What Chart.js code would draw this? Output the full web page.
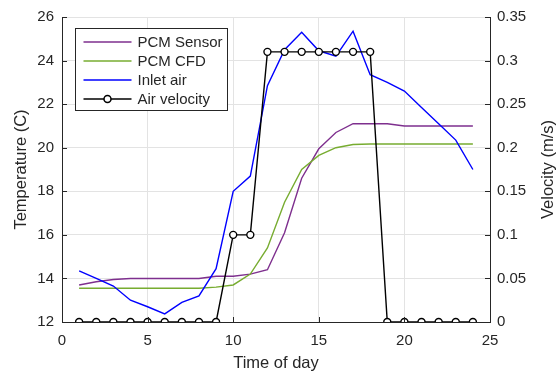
<!DOCTYPE html>
<html>
<head>
<meta charset="utf-8">
<script src="https://cdn.jsdelivr.net/npm/chart.js@4.4.1/dist/chart.umd.min.js"></script>
<style>
  html, body { margin: 0; padding: 0; background: #fff; }
  #wrap { width: 560px; height: 375px; }
</style>
</head>
<body>
<div id="wrap"><canvas id="chart" width="560" height="375"></canvas></div>
<script>
const hours = [1, 2, 3, 4, 5, 6, 7, 8, 9, 10, 11, 12, 13, 14, 15, 16, 17, 18, 19, 20, 21, 22, 23, 24];
const pcmSensor = [13.7, 13.85, 13.95, 14.0, 14.0, 14.0, 14.0, 14.0, 14.1, 14.1, 14.2, 14.4, 16.1, 18.6, 19.95, 20.7, 21.1, 21.1, 21.1, 21.0, 21.0, 21.0, 21.0, 21.0];
const pcmCfd = [13.55, 13.55, 13.55, 13.55, 13.55, 13.55, 13.55, 13.55, 13.6, 13.7, 14.2, 15.4, 17.5, 19.0, 19.65, 20.0, 20.15, 20.17, 20.17, 20.17, 20.17, 20.17, 20.17, 20.17];
const inletAir = [14.35, 14.0, 13.65, 13.0, 12.7, 12.37, 12.9, 13.2, 14.45, 18.0, 18.7, 22.85, 24.5, 25.3, 24.45, 24.2, 25.35, 23.35, 23.0, 22.6, 21.85, 21.1, 20.35, 19.0];
const airVelocity = [0, 0, 0, 0, 0, 0, 0, 0, 0, 0.1, 0.1, 0.31, 0.31, 0.31, 0.31, 0.31, 0.31, 0.31, 0, 0, 0, 0, 0, 0];

const FONT = '"Liberation Sans", Arial, Helvetica, sans-serif';
const TEXT = '#262626';
const AXIS = '#262626';
const GRID = '#e3e3e3';
const rightTitle = 'Velocity (m/s)';

function pts(ys) {
  return hours.map((h, i) => ({ x: h, y: ys[i] }));
}

// MATLAB style inward tick marks, right title read bottom-up, legend inside the plot
const matlabBits = {
  id: 'matlabBits',
  afterDatasetsDraw(chart) {
    const ctx = chart.ctx;
    const area = chart.chartArea;
    const sx = chart.scales.x, sy = chart.scales.y, sy2 = chart.scales.y2;
    ctx.save();
    ctx.strokeStyle = AXIS;
    ctx.lineWidth = 1;
    ctx.beginPath();
    sx.ticks.forEach(t => {
      const px = Math.round(sx.getPixelForValue(t.value)) + 0.5;
      ctx.moveTo(px, area.bottom);
      ctx.lineTo(px, area.bottom - 5);
    });
    sy.ticks.forEach(t => {
      const py = Math.round(sy.getPixelForValue(t.value)) + 0.5;
      ctx.moveTo(area.left, py);
      ctx.lineTo(area.left + 5, py);
    });
    sy2.ticks.forEach(t => {
      const py = Math.round(sy2.getPixelForValue(t.value)) + 0.5;
      ctx.moveTo(area.right, py);
      ctx.lineTo(area.right - 5, py);
    });
    ctx.stroke();

    // right axis title, rotated the same way as the left one
    ctx.save();
    ctx.translate(sy2.right - 12, (area.top + area.bottom) / 2);
    ctx.rotate(-Math.PI / 2);
    ctx.font = '16.5px ' + FONT;
    ctx.fillStyle = TEXT;
    ctx.textAlign = 'center';
    ctx.textBaseline = 'middle';
    ctx.fillText(rightTitle, 0, 0);
    ctx.restore();

    // legend
    const bx = area.left + 13.5, by = area.top + 11.5, bw = 152, bh = 82;
    ctx.fillStyle = '#fff';
    ctx.fillRect(bx, by, bw, bh);
    ctx.strokeStyle = '#262626';
    ctx.strokeRect(bx, by, bw, bh);
    ctx.font = '15px ' + FONT;
    ctx.textBaseline = 'middle';
    chart.data.datasets.forEach((ds, i) => {
      const yy = by + 13.5 + i * 19;
      ctx.strokeStyle = ds.borderColor;
      ctx.lineWidth = 1.5;
      ctx.beginPath();
      ctx.moveTo(bx + 8, yy);
      ctx.lineTo(bx + 56, yy);
      ctx.stroke();
      if (ds.pointRadius > 0) {
        ctx.beginPath();
        ctx.arc(bx + 32, yy, 3.5, 0, Math.PI * 2);
        ctx.fillStyle = '#fff';
        ctx.fill();
        ctx.stroke();
      }
      ctx.fillStyle = TEXT;
      ctx.fillText(ds.label, bx + 62, yy + 1);
    });
    ctx.restore();
  }
};

new Chart(document.getElementById('chart'), {
  type: 'line',
  data: {
    datasets: [
      { label: 'PCM Sensor', data: pts(pcmSensor), yAxisID: 'y', order: 3, borderColor: '#7e2f8e', borderWidth: 1.4, pointRadius: 0 },
      { label: 'PCM CFD', data: pts(pcmCfd), yAxisID: 'y', order: 2, borderColor: '#77ac30', borderWidth: 1.4, pointRadius: 0 },
      { label: 'Inlet air', data: pts(inletAir), yAxisID: 'y', order: 1, borderColor: '#0000ff', borderWidth: 1.4, pointRadius: 0 },
      { label: 'Air velocity', data: pts(airVelocity), yAxisID: 'y2', order: 0, borderColor: '#000000', borderWidth: 1.4,
        pointRadius: 3.5, pointBorderWidth: 1.4, pointBackgroundColor: '#ffffff', pointBorderColor: '#000000' }
    ]
  },
  options: {
    responsive: false,
    animation: false,
    layout: { padding: { top: 16, left: 0, right: 0, bottom: 0 } },
    plugins: {
      legend: { display: false },
      tooltip: { enabled: false }
    },
    scales: {
      x: {
        type: 'linear',
        min: 0, max: 25,
        ticks: { stepSize: 5, color: TEXT, font: { family: FONT, size: 15 }, padding: 10, maxRotation: 0 },
        grid: { color: GRID, drawTicks: false },
        border: { color: AXIS, width: 1 },
        title: { display: true, text: 'Time of day', color: TEXT, font: { family: FONT, size: 16.5 }, padding: { top: 0, bottom: 2 } },
        afterFit(s) { s.height = 53; }
      },
      y: {
        position: 'left',
        min: 12, max: 26,
        ticks: { stepSize: 2, color: TEXT, font: { family: FONT, size: 15 }, padding: 8 },
        grid: { color: GRID, drawTicks: false },
        border: { color: AXIS, width: 1 },
        title: { display: true, text: 'Temperature (C)', color: TEXT, font: { family: FONT, size: 16.5 }, padding: { top: 12, bottom: 0 } },
        afterFit(s) { s.width = 62; }
      },
      y2: {
        position: 'right',
        min: 0, max: 0.35,
        ticks: {
          stepSize: 0.05, color: TEXT, font: { family: FONT, size: 15 }, padding: 7,
          callback: v => String(+v.toFixed(2))
        },
        grid: { drawOnChartArea: false, drawTicks: false },
        border: { color: AXIS, width: 1 },
        afterFit(s) { s.width = 70; }
      }
    }
  },
  plugins: [matlabBits]
});
</script>
</body>
</html>
